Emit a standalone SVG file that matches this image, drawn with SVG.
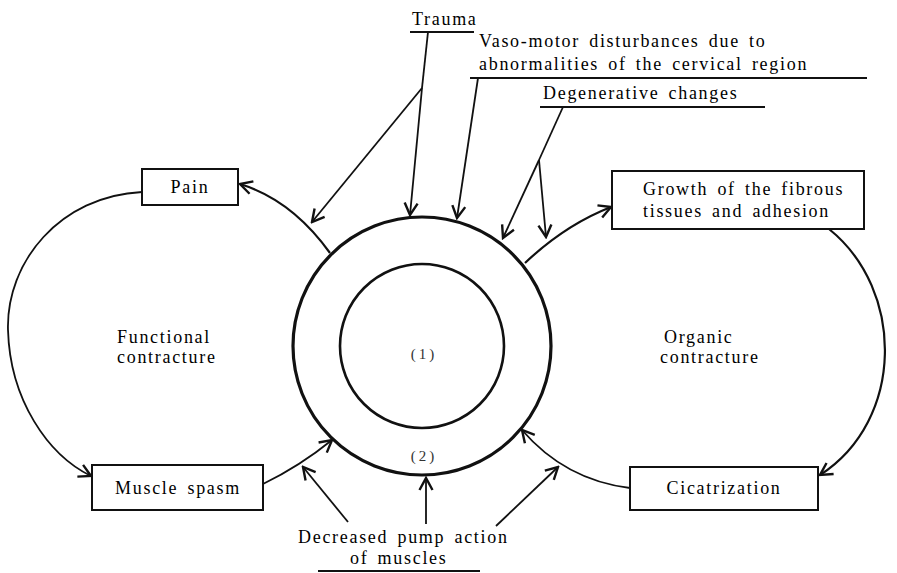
<svg xmlns="http://www.w3.org/2000/svg" width="897" height="573" viewBox="0 0 897 573">
<style>
text{font-family:"Liberation Serif","Times New Roman",serif;font-size:18px;fill:#000;letter-spacing:1.7px;word-spacing:3px}
.box{fill:#fff;stroke:#111;stroke-width:2}
.ln{fill:none;stroke:#111;stroke-width:1.8}
.arc{fill:none;stroke:#111;stroke-width:2.2}
.ul{stroke:#111;stroke-width:2}
.mid{text-anchor:middle}
.num{font-size:15px;letter-spacing:3px;fill:#333}
</style>
<defs>
<marker id="ah" viewBox="0 0 16 16" refX="14" refY="8" markerWidth="16" markerHeight="16" markerUnits="userSpaceOnUse" orient="auto">
<path d="M2,1.5 L14,8 L2,14.5" fill="none" stroke="#111" stroke-width="2.4"/>
</marker>
</defs>
<rect width="897" height="573" fill="#fff"/>

<g id="center">
<circle cx="422" cy="346" r="129" fill="none" stroke="#111" stroke-width="3.2"/>
<circle cx="422" cy="346" r="82" fill="none" stroke="#111" stroke-width="2.6"/>
<text class="num mid" x="424" y="359">(1)</text>
<text class="num mid" x="424" y="461">(2)</text>
</g>

<g id="trauma">
<text x="412" y="25">Trauma</text>
<line class="ul" x1="410" y1="32" x2="474" y2="32"/>
</g>
<g id="vasomotor">
<text x="479" y="47">Vaso-motor disturbances due to</text>
<text x="479" y="70">abnormalities of the cervical region</text>
<line class="ul" x1="470" y1="78" x2="867" y2="78"/>
</g>
<g id="degenerative">
<text x="543" y="99">Degenerative changes</text>
<line class="ul" x1="540" y1="107" x2="765" y2="107"/>
</g>

<g id="pain">
<rect class="box" x="142" y="169" width="96" height="36"/>
<text class="mid" x="190" y="193">Pain</text>
</g>
<g id="muscle-spasm">
<rect class="box" x="92" y="465" width="171" height="45"/>
<text class="mid" x="178" y="494">Muscle spasm</text>
</g>
<g id="growth">
<rect class="box" x="612" y="171" width="252" height="58"/>
<text x="643" y="195">Growth of the fibrous</text>
<text x="643" y="217">tissues and adhesion</text>
</g>
<g id="cicatrization">
<rect class="box" x="630" y="467" width="188" height="43"/>
<text class="mid" x="724" y="494">Cicatrization</text>
</g>

<g id="functional">
<text x="117" y="343">Functional</text>
<text x="117" y="363">contracture</text>
</g>
<g id="organic">
<text x="664" y="343">Organic</text>
<text x="660" y="363">contracture</text>
</g>
<g id="decreased">
<text x="298" y="543">Decreased pump action</text>
<text x="350" y="564">of muscles</text>
<line class="ul" x1="318" y1="571" x2="480" y2="571"/>
</g>

<g id="connectors">
<path class="arc" d="M330,253 Q292,200 240,184" marker-end="url(#ah)"/>
<path class="ln" d="M142,192 C60,196 6,262 8,330 C10,400 48,455 91,476" marker-end="url(#ah)"/>
<path class="ln" d="M263,484 Q300,466 332,440" marker-end="url(#ah)"/>
<path class="arc" d="M525,263 Q565,225 611,207" marker-end="url(#ah)"/>
<path class="arc" d="M829,229 C905,290 905,420 820,475" marker-end="url(#ah)"/>
<path class="ln" d="M630,488 Q565,480 522,430" marker-end="url(#ah)"/>

<polyline class="ln" points="428,32 422,88"/>
<line class="ln" x1="422" y1="88" x2="410" y2="215" marker-end="url(#ah)"/>
<line class="ln" x1="422" y1="88" x2="312" y2="222" marker-end="url(#ah)"/>
<line class="ln" x1="478" y1="78" x2="457" y2="218" marker-end="url(#ah)"/>
<polyline class="ln" points="563,107 539,160"/>
<line class="ln" x1="539" y1="160" x2="503" y2="238" marker-end="url(#ah)"/>
<line class="ln" x1="539" y1="160" x2="546" y2="237" marker-end="url(#ah)"/>

<line class="ln" x1="348" y1="522" x2="303" y2="467" marker-end="url(#ah)"/>
<line class="ln" x1="426" y1="524" x2="426" y2="478" marker-end="url(#ah)"/>
<line class="ln" x1="496" y1="526" x2="558" y2="467" marker-end="url(#ah)"/>
</g>
</svg>
